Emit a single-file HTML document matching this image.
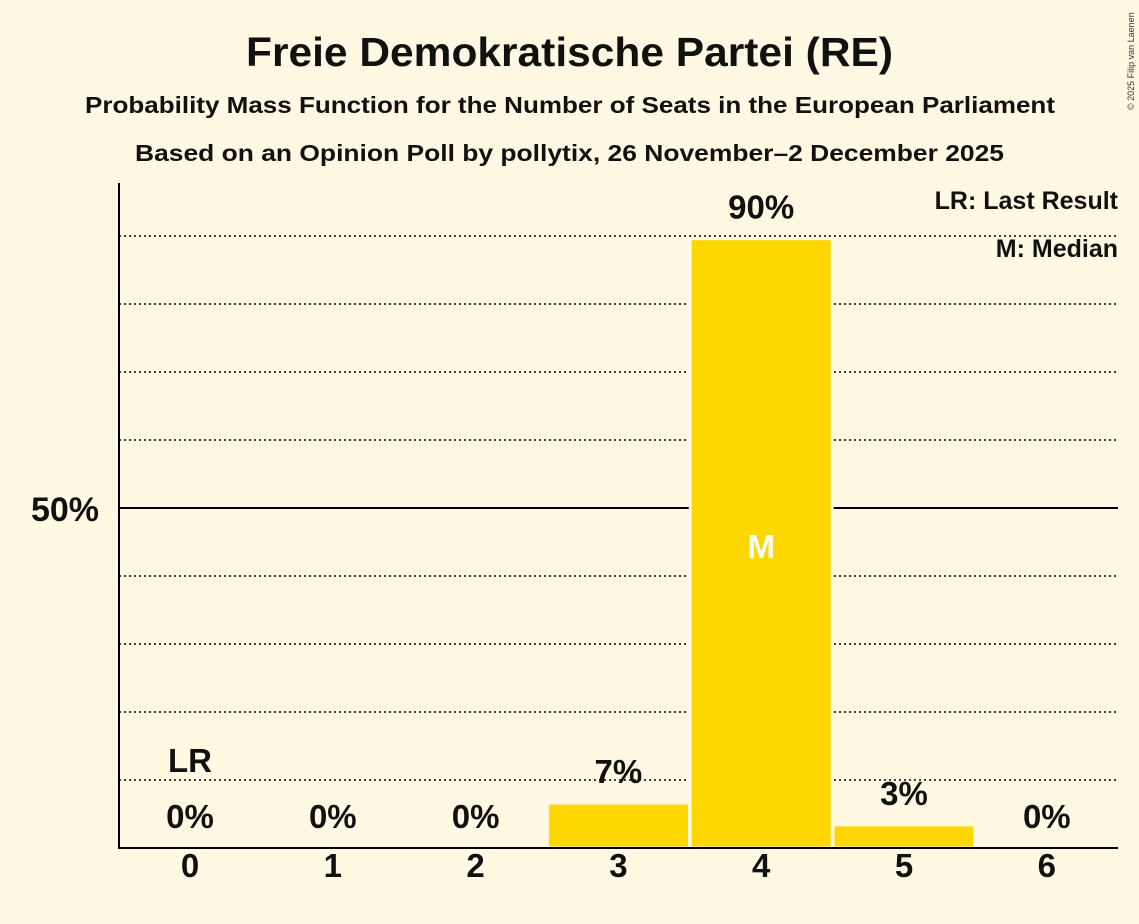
<!DOCTYPE html>
<html><head><meta charset="utf-8"><style>
body{margin:0;background:#fff8e3;}
svg{display:block;font-family:"Liberation Sans",sans-serif;}
</style></head><body>
<svg id="chart" width="1139" height="924">
<rect width="1139" height="924" fill="#fff8e3"/>
<text x="246" y="66" textLength="647" lengthAdjust="spacingAndGlyphs" font-size="41" font-weight="bold" fill="#111">Freie Demokratische Partei (RE)</text>
<text x="85" y="113" textLength="970" lengthAdjust="spacingAndGlyphs" font-size="23" font-weight="bold" fill="#111">Probability Mass Function for the Number of Seats in the European Parliament</text>
<text x="135" y="161" textLength="869" lengthAdjust="spacingAndGlyphs" font-size="23" font-weight="bold" fill="#111">Based on an Opinion Poll by pollytix, 26 November–2 December 2025</text>
<text x="1134" y="110" font-size="9" fill="#333" transform="rotate(-90 1134 110)">© 2025 Filip van Laenen</text>
<g id="grid"></g>
<g id="bars"></g>
<line x1="119" y1="183" x2="119" y2="848" stroke="#000" stroke-width="2"/>
<line x1="118" y1="848" x2="1118" y2="848" stroke="#000" stroke-width="2"/>
<text x="99" y="521" text-anchor="end" font-size="34" font-weight="bold" fill="#111">50%</text>
<text x="1118" y="209" text-anchor="end" font-size="25" font-weight="bold" fill="#111">LR: Last Result</text>
<text x="1118" y="257" text-anchor="end" font-size="25" font-weight="bold" fill="#111">M: Median</text>
</svg>
<script>
const seats=[0,1,2,3,4,5,6];
const probs=[0,0,0,6.6,89.6,3.4,0];
const valueLabels=["0%","0%","0%","7%","90%","3%","0%"];
const lastResult=0;
const median=4;
const gridTicks=[10,20,30,40,50,60,70,80,90];
const NS="http://www.w3.org/2000/svg";
const y=v=>848-v*6.8;
const x=i=>190+i*142.8;
function mk(t,a,p){const e=document.createElementNS(NS,t);for(const k in a)e.setAttribute(k,a[k]);p.appendChild(e);return e;}
const g=document.getElementById('grid'),b=document.getElementById('bars'),s=document.getElementById('chart');
gridTicks.forEach(t=>{
  const l=mk('line',{x1:119,x2:1118,y1:y(t),y2:y(t),stroke:'#000','stroke-width':t===50?2:1.5,'stroke-dasharray':t===50?'none':'2,3'},g);
  
  
});
seats.forEach((sv,i)=>{
  if(probs[i]>0){
    const r=mk('rect',{x:x(i)-71,y:y(probs[i]),width:142,height:848-y(probs[i]),fill:'#ffd700',stroke:'#fff8e3','stroke-width':3},b);
    
    
  }
  const ly=probs[i]>0?y(probs[i])-20:828;
  const t=mk('text',{x:x(i),y:ly,'text-anchor':'middle','font-size':33,'font-weight':'bold',fill:'#111'},s);
  t.textContent=valueLabels[i];
  
  
  const xt=mk('text',{x:x(i),y:877,'text-anchor':'middle','font-size':33,'font-weight':'bold',fill:'#111'},s);
  xt.textContent=sv;
  
  
});
const lr=mk('text',{x:x(lastResult),y:772,'text-anchor':'middle','font-size':33,'font-weight':'bold',fill:'#111'},s);
lr.textContent='LR';


const m=mk('text',{x:x(median),y:558,'text-anchor':'middle','font-size':33,'font-weight':'bold',fill:'#fff'},s);
m.textContent='M';


</script>
</body></html>
